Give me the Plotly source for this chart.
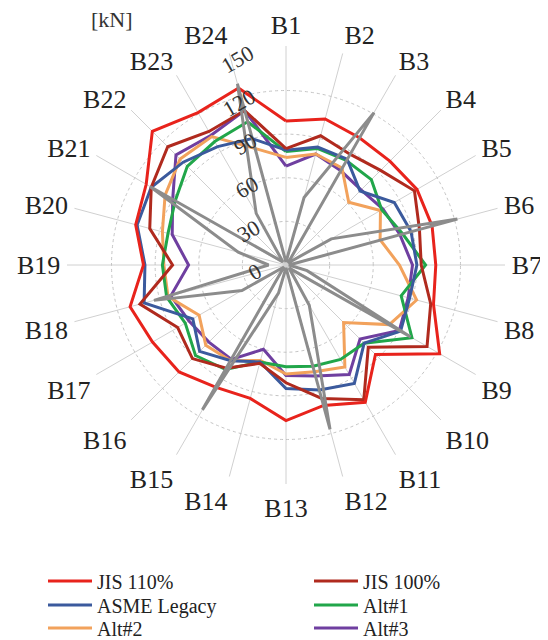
import plotly.graph_objects as go

categories = [f"B{i}" for i in range(1, 25)]

jis_110 = [99, 104, 101, 101, 104, 104, 103, 105, 122, 87, 109, 100,
           107, 95, 97, 104, 106, 111, 98, 107, 111, 130, 121, 126]
jis_100 = [80, 92, 88, 92, 102, 95, 93, 103, 112, 80, 107, 95,
           81, 70, 82, 91, 86, 104, 78, 97, 107, 115, 106, 110]
asme_legacy = [79, 84, 84, 72, 86, 89, 90, 88, 91, 76, 94, 89,
               85, 69, 76, 84, 74, 101, 97, 106, 107, 100, 94, 90]
alt1 = [78, 83, 83, 83, 76, 83, 96, 82, 100, 76, 75, 72,
        70, 69, 83, 88, 80, 85, 85, 84, 88, 96, 98, 102]
alt2 = [74, 79, 77, 61, 75, 67, 78, 93, 82, 56, 81, 76,
        75, 68, 76, 78, 69, 84, 84, 88, 96, 103, 102, 83]
alt3 = [68, 79, 75, 73, 77, 81, 87, 87, 90, 72, 87, 79,
        76, 60, 75, 75, 77, 82, 67, 81, 90, 107, 103, 110]
measured = [2, 48, 121, 2, 36, 122, 2, 15, 99, 3, 32, 117,
            2, 20, 115, 2, 35, 94, 12, 34, 108, 3, 41, 129]

radial_ticks = [0, 30, 60, 90, 120, 150]

# (name, values, colour, legend column, legend row)
series = [
    ("JIS 110%", jis_110, "#e8231c", 0, 0),
    ("JIS 100%", jis_100, "#b02a1e", 1, 0),
    ("ASME Legacy", asme_legacy, "#3b5a9d", 0, 1),
    ("Alt#1", alt1, "#21a64a", 1, 1),
    ("Alt#2", alt2, "#f2a25c", 0, 2),
    ("Alt#3", alt3, "#6f3fa0", 1, 2),
]

SERIF = "Liberation Serif"

# the page body has an 8px margin, so the figure is laid out 8px in
OFF = 8
W, H = 548 - OFF, 640 - OFF
cx, cy, R = 286 - OFF, 265 - OFF, 219

legend_cols = [35, 301]          # figure px
legend_rows = [573, 597, 620]    # figure px (row centres)

fig = go.Figure()
legends = {}
for idx, (name, vals, color, col, row) in reversed(list(enumerate(series))):
    key = "legend" if idx == 0 else f"legend{idx + 1}"
    fig.add_trace(go.Scatterpolar(
        r=vals + [vals[0]], theta=categories + [categories[0]],
        mode="lines", name=name, legend=key,
        line=dict(color=color, width=3),
    ))
    legends[key] = dict(
        x=legend_cols[col] / W, y=1 - legend_rows[row] / H,
        xanchor="left", yanchor="middle", orientation="v",
        itemwidth=44, bgcolor="rgba(0,0,0,0)",
        font=dict(family=SERIF, size=20, color="#222"),
    )
fig.add_trace(go.Scatterpolar(
    r=measured + [measured[0]], theta=categories + [categories[0]],
    mode="lines", showlegend=False,
    line=dict(color="#8c8c8c", width=3),
))

fig.update_layout(
    width=W, height=H,
    margin=dict(l=0, r=0, t=0, b=0, autoexpand=False),
    paper_bgcolor="white",
    font=dict(family=SERIF, color="#222"),
    polar=dict(
        domain=dict(x=[(cx - R) / W, (cx + R) / W],
                    y=[(H - cy - R) / H, (H - cy + R) / H]),
        bgcolor="white",
        angularaxis=dict(
            rotation=90, direction="clockwise",
            categoryorder="array", categoryarray=categories,
            showline=False, gridcolor="#d0d0d0", gridwidth=1,
            ticks="outside", ticklen=1, tickcolor="rgba(0,0,0,0)",
            tickfont=dict(family=SERIF, size=26, color="#222"),
        ),
        radialaxis=dict(
            range=[0, 150.6], tickvals=radial_ticks,
            angle=92, tickangle=62, side="counterclockwise",
            showline=False, ticks="outside", ticklen=8,
            tickcolor="rgba(0,0,0,0)",
            gridcolor="#c4c4c4", griddash="3px,3px", gridwidth=1,
            tickfont=dict(family=SERIF, size=22, color="#333"),
        ),
    ),
    annotations=[dict(
        text="[kN]", x=(112 - OFF) / W, y=1 - (20 - OFF) / H,
        xref="paper", yref="paper", xanchor="center", yanchor="middle",
        showarrow=False, font=dict(family=SERIF, size=22, color="#333"),
    )],
    **legends,
)

fig.write_html("out.html")
